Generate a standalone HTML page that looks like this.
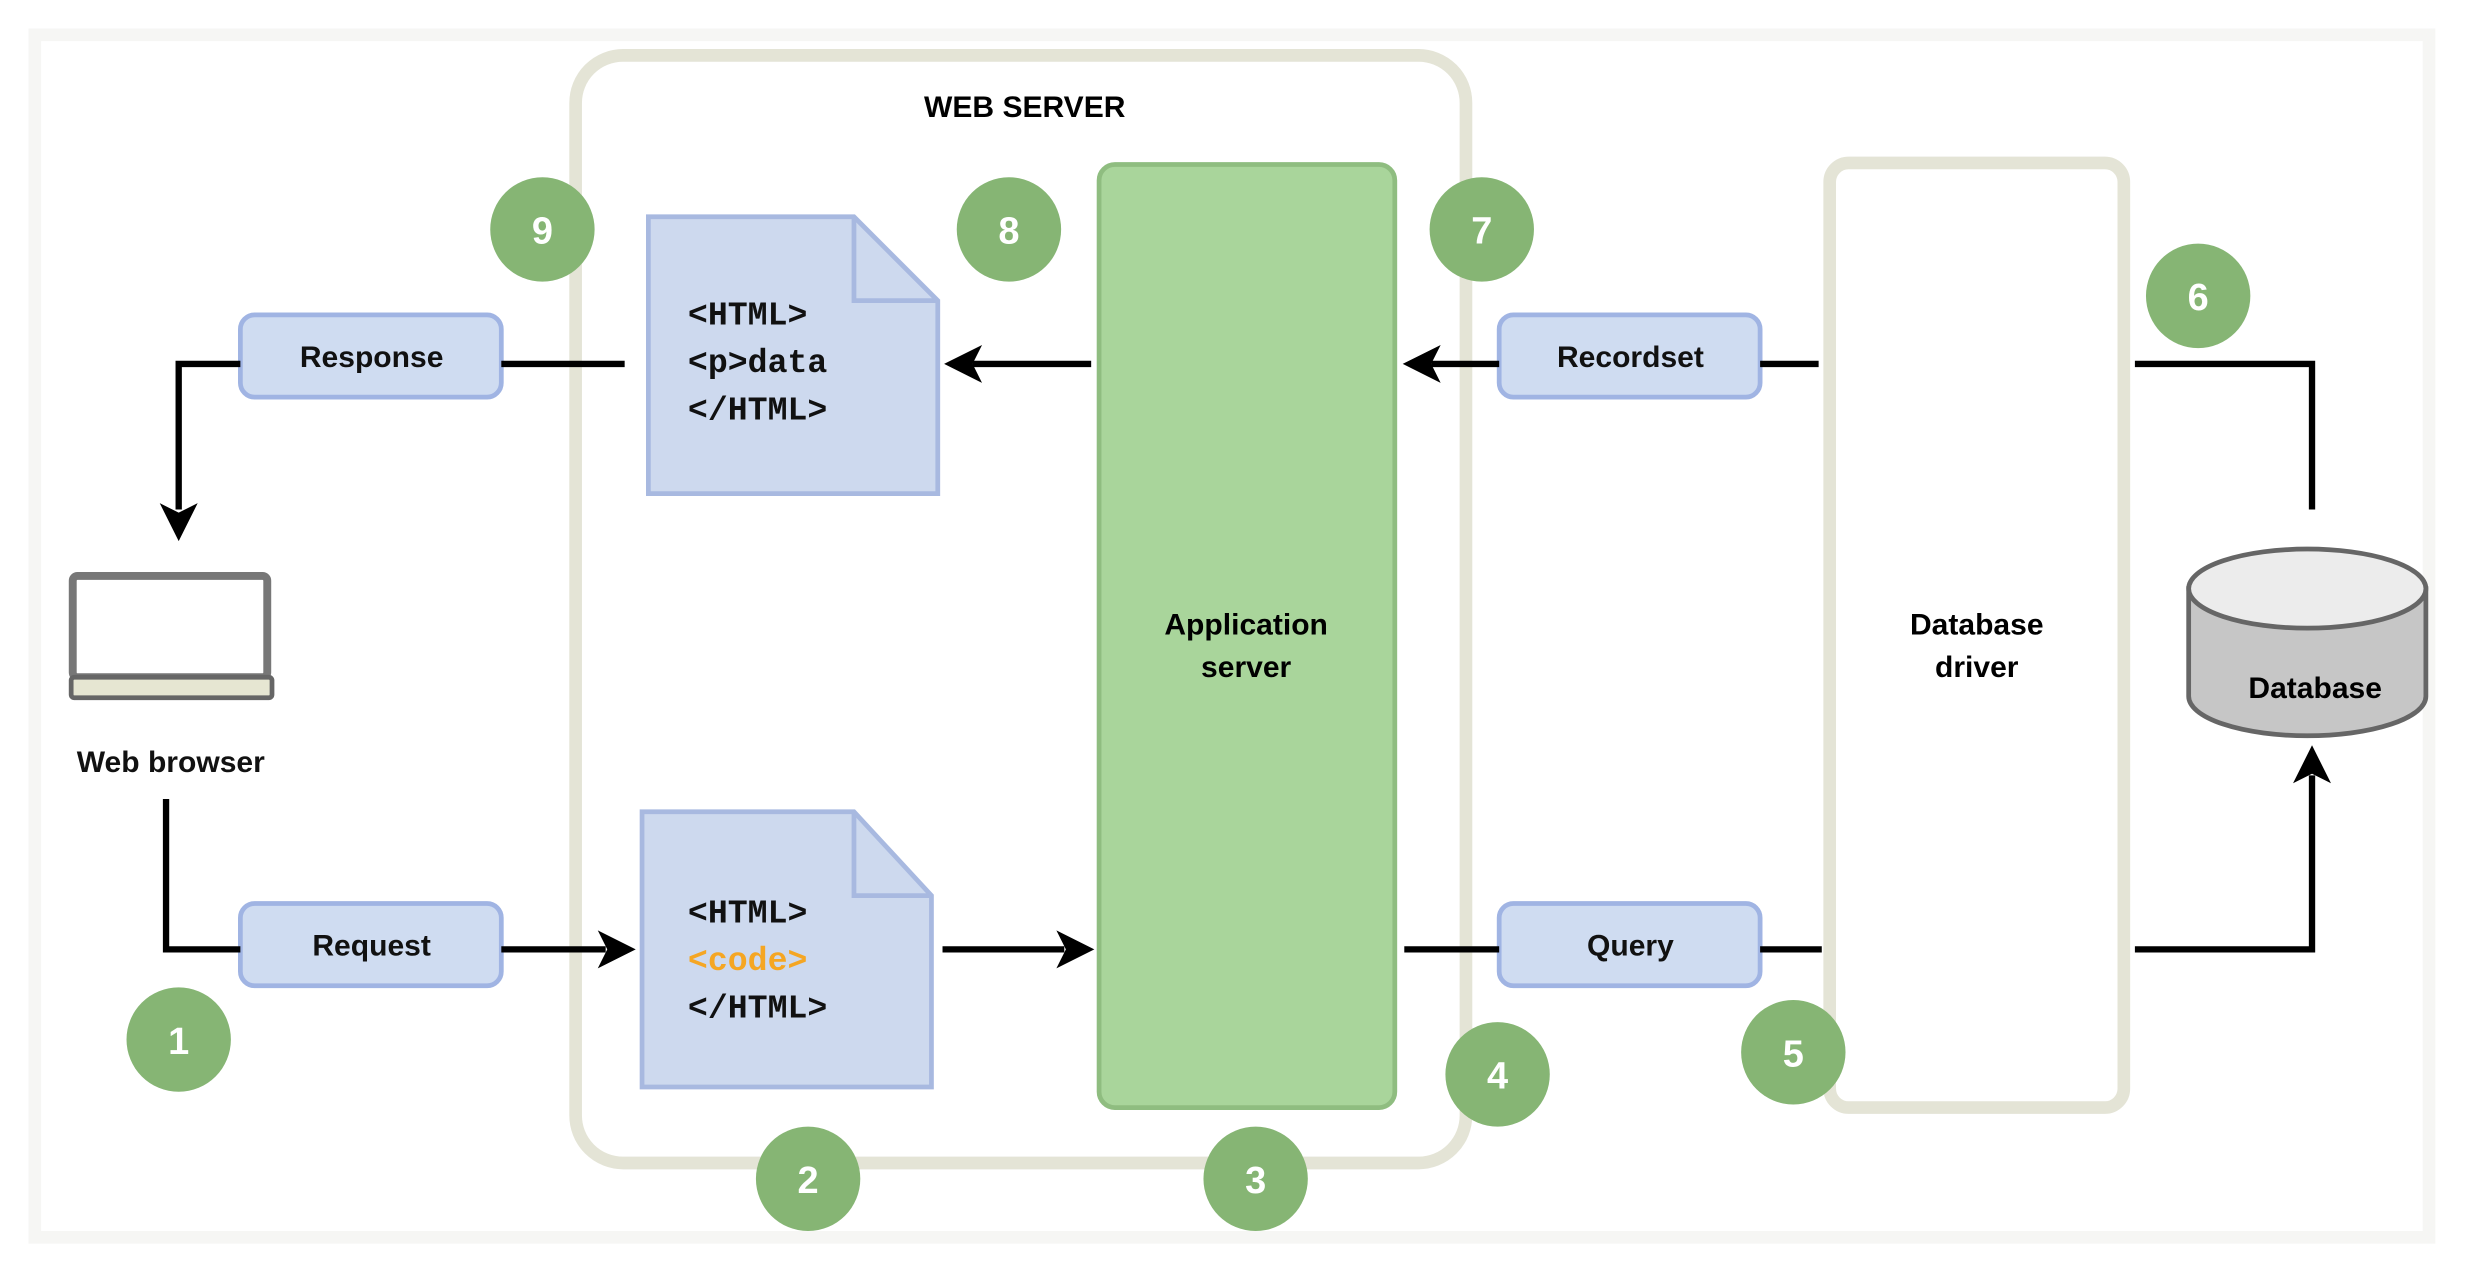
<!DOCTYPE html>
<html><head><meta charset="utf-8"><style>html,body{margin:0;padding:0;background:#fff}svg{display:block}</style></head>
<body>
<svg width="2467" height="1269" viewBox="0 0 1560 802" preserveAspectRatio="none" xmlns="http://www.w3.org/2000/svg">
<rect x="0" y="0" width="1560" height="802" fill="#fff"/>
<rect x="22" y="22" width="1514" height="760" fill="none" stroke="#f6f6f4" stroke-width="8"/>
<!-- web server -->
<rect x="364" y="35" width="563" height="700" rx="30" fill="none" stroke="#e4e4d6" stroke-width="8"/>
<text x="648" y="74" font-family="Liberation Sans, sans-serif" font-weight="bold" font-size="19" text-anchor="middle">WEB SERVER</text>
<!-- app server -->
<rect x="695" y="104" width="187" height="596" rx="10" fill="#a9d59b" stroke="#8fbd80" stroke-width="3"/>
<text x="788" y="401" font-family="Liberation Sans, sans-serif" font-weight="bold" font-size="19" text-anchor="middle">Application</text>
<text x="788" y="428" font-family="Liberation Sans, sans-serif" font-weight="bold" font-size="19" text-anchor="middle">server</text>
<!-- db driver -->
<rect x="1157" y="103" width="186" height="597" rx="12" fill="#fff" stroke="#e4e4d6" stroke-width="8"/>
<text x="1250" y="401" font-family="Liberation Sans, sans-serif" font-weight="bold" font-size="19" text-anchor="middle">Database</text>
<text x="1250" y="428" font-family="Liberation Sans, sans-serif" font-weight="bold" font-size="19" text-anchor="middle">driver</text>
<!-- docs -->
<path d="M410 137 L540 137 L593 190 L593 312 L410 312 Z" fill="#cdd9ee" stroke="#a8b9e0" stroke-width="3"/>
<path d="M540 137 L540 190 L593 190" fill="none" stroke="#a8b9e0" stroke-width="3"/>
<g font-family="Liberation Mono, monospace" font-size="21" font-weight="bold" fill="#111">
<text x="435" y="205">&lt;HTML&gt;</text>
<text x="435" y="235">&lt;p&gt;data</text>
<text x="435" y="265">&lt;/HTML&gt;</text>
</g>
<path d="M406 513 L540 513 L589 566 L589 687 L406 687 Z" fill="#cdd9ee" stroke="#a8b9e0" stroke-width="3"/>
<path d="M540 513 L540 566 L589 566" fill="none" stroke="#a8b9e0" stroke-width="3"/>
<g font-family="Liberation Mono, monospace" font-size="21" font-weight="bold" fill="#111">
<text x="435" y="583">&lt;HTML&gt;</text>
<text x="435" y="613" fill="#f5a623">&lt;code&gt;</text>
<text x="435" y="643">&lt;/HTML&gt;</text>
</g>
<!-- label boxes -->
<g fill="#cfdcf1" stroke="#a0b4e3" stroke-width="3">
<rect x="152" y="199" width="165" height="52" rx="9"/>
<rect x="152" y="571" width="165" height="52" rx="9"/>
<rect x="948" y="199" width="165" height="52" rx="9"/>
<rect x="948" y="571" width="165" height="52" rx="9"/>
</g>
<g font-family="Liberation Sans, sans-serif" font-weight="bold" font-size="19" text-anchor="middle" fill="#111">
<text x="235" y="232">Response</text>
<text x="235" y="604">Request</text>
<text x="1031" y="232">Recordset</text>
<text x="1031" y="604">Query</text>
<text x="108" y="488">Web browser</text>
</g>
<!-- lines -->
<g stroke="#000" stroke-width="4" fill="none">
<path d="M395 230 L317 230"/>
<path d="M152 230 L113 230 L113 322"/>
<path d="M690 230 L615 230"/>
<path d="M1150 230 L1113 230"/>
<path d="M948 230 L905 230"/>
<path d="M1350 230 L1462 230 L1462 322"/>
<path d="M105 505 L105 600 L152 600"/>
<path d="M317 600 L383 600"/>
<path d="M596 600 L673 600"/>
<path d="M888 600 L948 600"/>
<path d="M1113 600 L1152 600"/>
<path d="M1350 600 L1462 600 L1462 490"/>
</g>
<g fill="#000">
<path d="M113 342 L101 318 L113 324 L125 318 Z"/>
<path d="M597 230 L621 218 L615 230 L621 242 Z"/>
<path d="M887 230 L911 218 L905 230 L911 242 Z"/>
<path d="M402 600 L378 588 L384 600 L378 612 Z"/>
<path d="M692 600 L668 588 L674 600 L668 612 Z"/>
<path d="M1462 471 L1450 495 L1462 489 L1474 495 Z"/>
</g>
<!-- laptop -->
<rect x="46" y="364" width="123" height="64" rx="3" fill="#fff" stroke="#777" stroke-width="5"/>
<rect x="45" y="428" width="127" height="13" rx="2" fill="#e6e6d2" stroke="#666" stroke-width="3"/>
<!-- database -->
<path d="M1384 372 L1384 440 A75 25 0 0 0 1534 440 L1534 372 Z" fill="#c6c6c6" stroke="#666" stroke-width="3"/>
<ellipse cx="1459" cy="372" rx="75" ry="25" fill="#ececec" stroke="#666" stroke-width="3"/>
<text x="1464" y="441" font-family="Liberation Sans, sans-serif" font-weight="bold" font-size="19" text-anchor="middle">Database</text>
<!-- circles -->
<g fill="#86b574">
<circle cx="343" cy="145" r="33"/>
<circle cx="638" cy="145" r="33"/>
<circle cx="937" cy="145" r="33"/>
<circle cx="1390" cy="187" r="33"/>
<circle cx="113" cy="657" r="33"/>
<circle cx="511" cy="745" r="33"/>
<circle cx="794" cy="745" r="33"/>
<circle cx="947" cy="679" r="33"/>
<circle cx="1134" cy="665" r="33"/>
</g>
<g font-family="Liberation Sans, sans-serif" font-weight="bold" font-size="24" text-anchor="middle" fill="#fff">
<text x="343" y="154">9</text>
<text x="638" y="154">8</text>
<text x="937" y="154">7</text>
<text x="1390" y="196">6</text>
<text x="113" y="666">1</text>
<text x="511" y="754">2</text>
<text x="794" y="754">3</text>
<text x="947" y="688">4</text>
<text x="1134" y="674">5</text>
</g>
</svg>
</body></html>
